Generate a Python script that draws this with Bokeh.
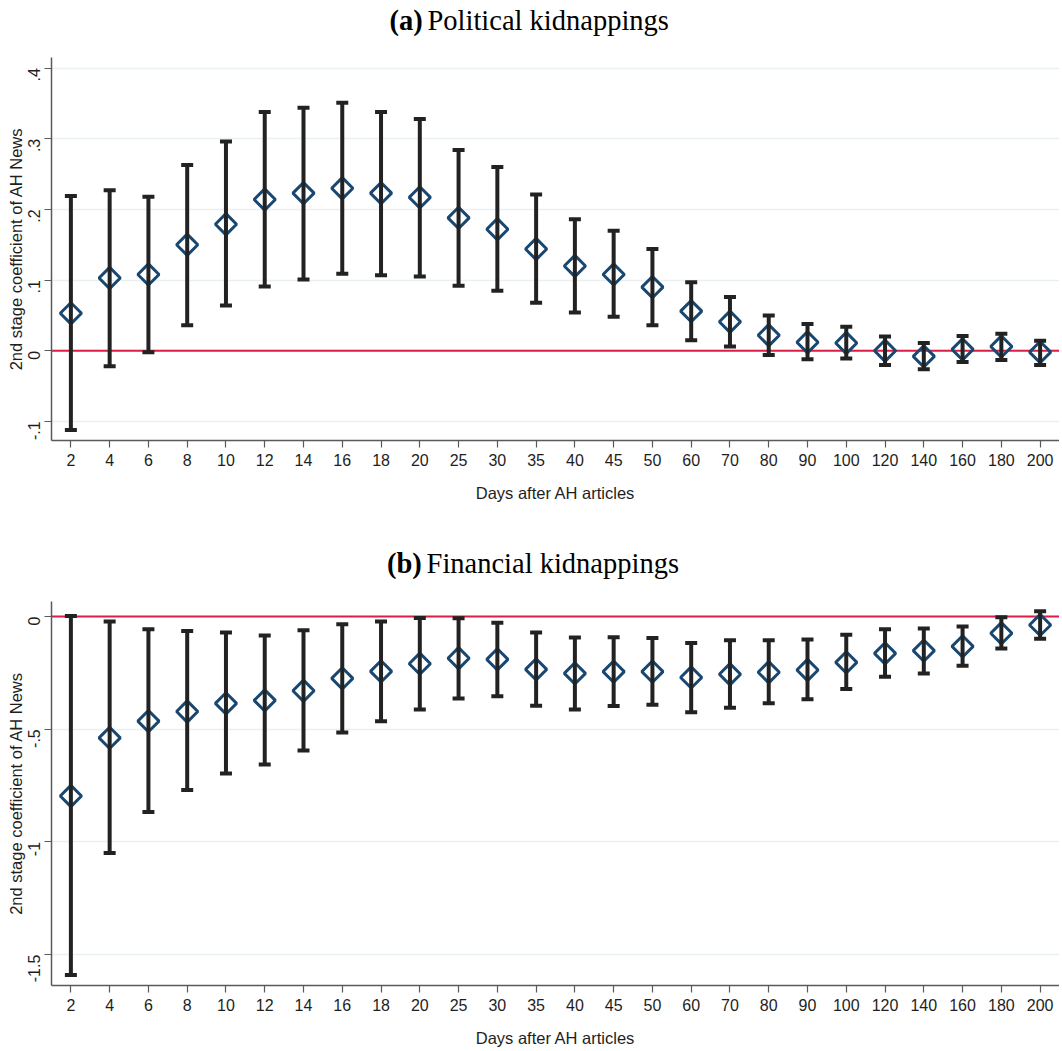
import math
from bokeh.plotting import figure
from bokeh.layouts import column
from bokeh.models import (ColumnDataSource, FactorRange, Range1d, FixedTicker,
                          CustomJSTickFormatter, Span, Whisker, TeeHead, Label)
from bokeh.embed import file_html
from bokeh.resources import INLINE

days = ["2", "4", "6", "8", "10", "12", "14", "16", "18", "20", "25", "30", "35",
        "40", "45", "50", "60", "70", "80", "90", "100", "120", "140", "160", "180", "200"]

# (a) Political kidnappings
pol_coef = [0.053, 0.103, 0.108, 0.150, 0.179, 0.214, 0.223, 0.230, 0.223, 0.217, 0.188, 0.172, 0.144,
            0.120, 0.108, 0.090, 0.056, 0.041, 0.022, 0.012, 0.011, 0.000, -0.008, 0.002, 0.006, -0.002]
pol_upper = [0.219, 0.227, 0.218, 0.263, 0.296, 0.338, 0.344, 0.351, 0.338, 0.328, 0.284, 0.260, 0.221,
             0.186, 0.170, 0.144, 0.097, 0.076, 0.050, 0.038, 0.034, 0.020, 0.011, 0.021, 0.024, 0.014]
pol_lower = [-0.112, -0.022, -0.002, 0.036, 0.064, 0.091, 0.101, 0.109, 0.107, 0.105, 0.092, 0.085, 0.068,
             0.054, 0.048, 0.036, 0.015, 0.006, -0.006, -0.012, -0.011, -0.020, -0.026, -0.016, -0.013, -0.020]
pol_ticks = [-0.1, 0.0, 0.1, 0.2, 0.3, 0.4]

# (b) Financial kidnappings
fin_coef = [-0.796, -0.538, -0.464, -0.421, -0.385, -0.372, -0.329, -0.274, -0.243, -0.209, -0.185, -0.190, -0.234,
            -0.252, -0.244, -0.244, -0.270, -0.256, -0.247, -0.237, -0.203, -0.163, -0.151, -0.132, -0.074, -0.037]
fin_upper = [0.003, -0.022, -0.056, -0.064, -0.071, -0.084, -0.061, -0.034, -0.022, -0.006, -0.007, -0.027, -0.071,
             -0.093, -0.092, -0.095, -0.117, -0.105, -0.105, -0.102, -0.081, -0.056, -0.053, -0.044, -0.003, 0.024]
fin_lower = [-1.590, -1.049, -0.867, -0.770, -0.696, -0.656, -0.594, -0.514, -0.464, -0.412, -0.363, -0.354, -0.396,
             -0.412, -0.397, -0.391, -0.424, -0.404, -0.385, -0.367, -0.321, -0.267, -0.252, -0.218, -0.142, -0.098]
fin_ticks = [-1.5, -1.0, -0.5, 0.0]

x_title = "Days after AH articles"
y_title = "2nd stage coefficient of AH News"

W = 1059
NAVY = "#1a476f"
BAR = "#222222"
AXIS = "#5a5a5a"

fmt = CustomJSTickFormatter(code="""
let s = tick.toFixed(1);
s = s.replace(/\\.0$/, '');
s = s.replace(/^(-?)0\\./, '$1.');
return s;
""")


def title_strip(tag, name, height, ymid, tag_right, name_left):
    t = figure(width=W, height=height, x_range=Range1d(0, W), y_range=Range1d(0, height),
               output_backend="svg", toolbar_location=None, min_border=0,
               x_axis_location=None, y_axis_location=None)
    t.grid.visible = False
    t.outline_line_color = None
    t.add_layout(Label(x=tag_right, y=ymid, text=tag, text_font="Liberation Serif",
                       text_font_size="28.5px", text_font_style="bold", text_color="black",
                       text_align="right", text_baseline="middle"))
    t.add_layout(Label(x=name_left, y=ymid, text=name, text_font="Liberation Serif",
                       text_font_size="28.5px", text_font_style="normal", text_color="black",
                       text_align="left", text_baseline="middle"))
    return t


def panel(coef, upper, lower, ticks, ymin, ymax, height, top, bottom):
    p = figure(width=W, height=height, x_range=FactorRange(*days, range_padding=0),
               y_range=Range1d(ymin, ymax), output_backend="svg", toolbar_location=None,
               min_border_left=51, min_border_right=0, min_border_top=top,
               min_border_bottom=bottom)
    p.outline_line_color = None
    p.background_fill_color = "white"
    p.border_fill_color = "white"

    p.xgrid.grid_line_color = None
    p.ygrid.grid_line_color = "#e9f0f1"
    p.ygrid.grid_line_width = 1.5

    p.yaxis.ticker = FixedTicker(ticks=ticks)
    p.yaxis.formatter = fmt
    p.yaxis.major_label_orientation = math.pi / 2
    p.yaxis.minor_tick_line_color = None
    for ax in (p.xaxis, p.yaxis):
        ax.axis_line_color = AXIS
        ax.axis_line_width = 1.5
        ax.major_tick_line_color = AXIS
        ax.major_tick_line_width = 1.2
        ax.major_tick_out = 7
        ax.major_tick_in = 0
        ax.major_label_text_font = "Liberation Sans"
        ax.major_label_text_font_size = "16px"
        ax.major_label_text_color = "#1e1e1e"
        ax.axis_label_text_font = "Liberation Sans"
        ax.axis_label_text_font_size = "16.5px"
        ax.axis_label_text_font_style = "normal"
        ax.axis_label_text_color = "#1e1e1e"
    p.xaxis.major_label_standoff = 6
    p.xaxis.axis_label_standoff = 15
    p.yaxis.major_label_standoff = 10
    p.yaxis.axis_label_standoff = -5
    p.xaxis.axis_label = x_title
    p.yaxis.axis_label = y_title

    src = ColumnDataSource(dict(day=days, coef=coef, hi=upper, lo=lower))

    p.add_layout(Span(location=0, dimension="width", line_color="#dc1e46",
                      line_width=2, level="underlay"))

    w = Whisker(source=src, base="day", upper="hi", lower="lo",
                line_color=BAR, line_width=4, level="glyph",
                upper_head=TeeHead(size=12, line_color=BAR, line_width=4),
                lower_head=TeeHead(size=12, line_color=BAR, line_width=4))
    p.add_layout(w)

    p.scatter(x="day", y="coef", source=src, marker="square", angle=math.pi / 4,
              size=15, fill_color=None, line_color=NAVY, line_width=3)
    return p


t1 = title_strip("(a)", "Political kidnappings", 40, 20, 390, 395)
p1 = panel(pol_coef, pol_upper, pol_lower, pol_ticks, -0.127, 0.415, 488, 17, 88)
t2 = title_strip("(b)", "Financial kidnappings", 62, 27, 389, 394)
p2 = panel(fin_coef, fin_upper, fin_lower, fin_ticks, -1.637, 0.067, 459, 11, 64)

layout = column(t1, p1, t2, p2, spacing=0)
open("out.html", "w").write(file_html(layout, INLINE))
